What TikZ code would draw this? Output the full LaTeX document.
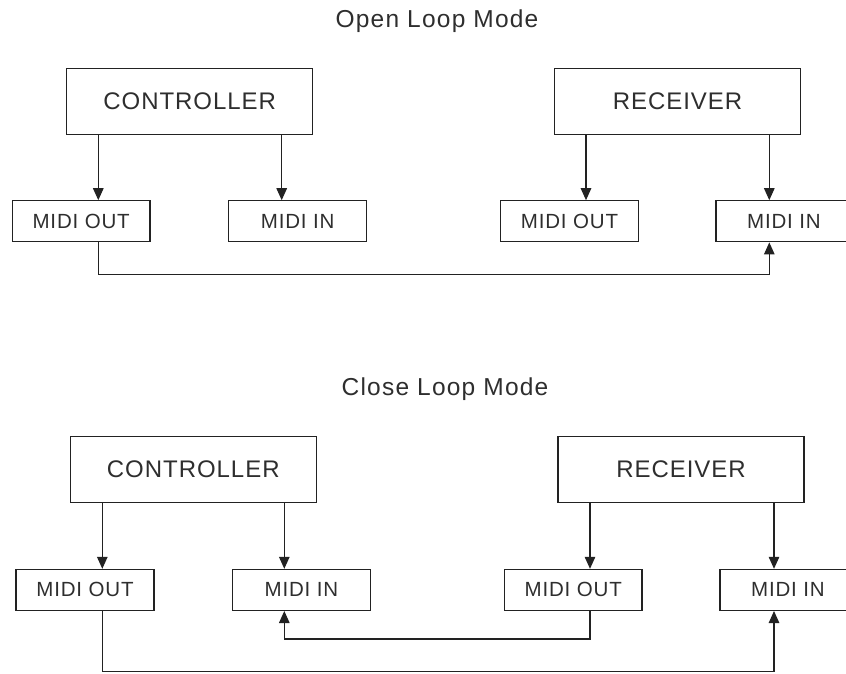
\documentclass[tikz,border=0pt]{standalone}
\usepackage{fontspec}
\setmainfont{Liberation Sans}
\newfontfamily\lab[LetterSpace=4]{Liberation Sans}
\newfontfamily\ttl[LetterSpace=5]{Liberation Sans}
\usetikzlibrary{arrows.meta}
\definecolor{ink}{HTML}{222222}
\definecolor{txt}{HTML}{2E2E2E}
\begin{document}
\begin{tikzpicture}[x=1pt,y=-1pt,
  bigbox/.style={draw=ink,line width=1.2pt,minimum width=246pt,minimum height=66pt,inner sep=0pt,text=txt,font=\lab\fontsize{24}{28}\selectfont},
  smallbox/.style={draw=ink,line width=1.2pt,minimum height=41pt,inner sep=0pt,text=txt,font=\lab\fontsize{20.5}{24}\selectfont},
  ttlnode/.style={anchor=base,text=txt,inner sep=0pt,font=\ttl\fontsize{24.5}{28}\selectfont},
  arr/.style={draw=ink,line width=1.2pt,-{Triangle[length=12pt,width=10.5pt]}}]
\useasboundingbox (0,0) rectangle (846,673);
% ---- Open loop ----
\node[ttlnode] (t1) at (437,27.5) {Open Loop Mode};
\node[bigbox] (ctrl1) at (189.7,101.2) {CONTROLLER};
\node[bigbox] (rec1) at (677.5,101.2) {RECEIVER};
\node[smallbox,minimum width=137.7pt] (out1) at (81.2,221.3) {MIDI OUT};
\node[smallbox,minimum width=138pt] (in1) at (297.7,221.3) {MIDI IN};
\node[smallbox,minimum width=137.6pt] (out2) at (569.5,221.3) {MIDI OUT};
\node[smallbox,minimum width=136pt] (in2) at (784,221.3) {MIDI IN};
\draw[arr] (ctrl1.south -| 98.3,0) -- (out1.north -| 98.3,0);
\draw[arr] (ctrl1.south -| 281.7,0) -- (in1.north -| 281.7,0);
\draw[arr] (rec1.south -| 586,0) -- (out2.north -| 586,0);
\draw[arr] (rec1.south -| 769.3,0) -- (in2.north -| 769.3,0);
\coordinate (c1) at (769.3,274.3);
\draw[arr] (out1.south -| 98.3,0) |- (c1) -- (in2.south -| c1);
% ---- Close loop ----
\node[ttlnode] (t2) at (445,395) {Close Loop Mode};
\node[bigbox] (ctrl2) at (193.3,469.7) {CONTROLLER};
\node[bigbox] (rec2) at (681,469.7) {RECEIVER};
\node[smallbox,minimum width=138pt] (out3) at (85,589.9) {MIDI OUT};
\node[smallbox,minimum width=138.4pt] (in3) at (301.5,589.9) {MIDI IN};
\node[smallbox,minimum width=137.7pt] (out4) at (573.2,589.9) {MIDI OUT};
\node[smallbox,minimum width=136pt] (in4) at (788,589.9) {MIDI IN};
\draw[arr] (ctrl2.south -| 102.3,0) -- (out3.north -| 102.3,0);
\draw[arr] (ctrl2.south -| 284.3,0) -- (in3.north -| 284.3,0);
\draw[arr] (rec2.south -| 590,0) -- (out4.north -| 590,0);
\draw[arr] (rec2.south -| 774,0) -- (in4.north -| 774,0);
\coordinate (c2) at (284.3,639);
\draw[arr] (out4.south -| 590,0) |- (c2) -- (in3.south -| c2);
\coordinate (c3) at (774,671.5);
\draw[arr] (out3.south -| 102.3,0) |- (c3) -- (in4.south -| c3);
\end{tikzpicture}
\end{document}
